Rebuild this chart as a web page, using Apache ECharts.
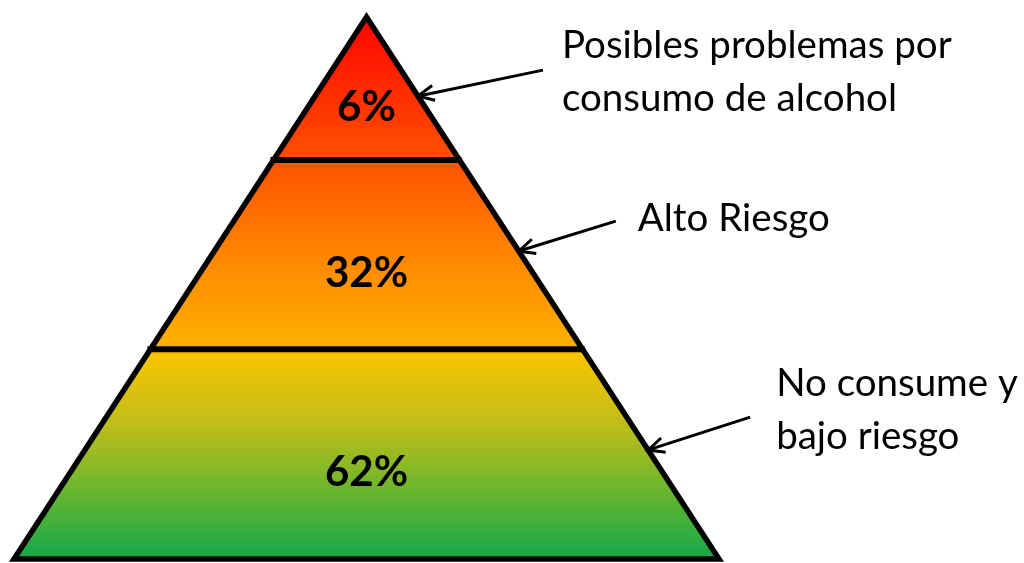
<!DOCTYPE html>
<html><head><meta charset="utf-8">
<script src="https://cdn.jsdelivr.net/npm/echarts@6/dist/echarts.min.js"></script>
<style>html,body{margin:0;padding:0;background:#fff}#c{width:1024px;height:563px}</style>
</head><body><div id="c"></div>
<script>
// ---- data ----
const categories = ['Posibles problemas por\nconsumo de alcohol', 'Alto Riesgo', 'No consume y\nbajo riesgo'];
const values = [6, 32, 62];

// ---- layout (fractions of pyramid height: base = 0, apex = 1) ----
const bands = [[0.736, 1], [0.387, 0.736], [0, 0.387]];
const valueTextH = [0.833, 0.526, 0.159];
const arrowTipH = [0.854, 0.568, 0.201];
const arrowVec = [[125, -26], [97, -30], [102, -33]];
const labelOffset = [[19, 1.5], [22, -3], [26, -7]];

const gradStops = [
  {offset: 0, color: '#FF0000'},
  {offset: 0.27, color: '#FF5200'},
  {offset: 0.43, color: '#FF8200'},
  {offset: 0.605, color: '#FFB000'},
  {offset: 0.625, color: '#F8C400'},
  {offset: 0.745, color: '#C2BE18'},
  {offset: 0.87, color: '#6AB62E'},
  {offset: 1, color: '#0EA84B'}
];

const chart = echarts.init(document.getElementById('c'), null, {renderer: 'canvas'});

function renderItem(params, api) {
  const i = api.value(0);
  const h0 = bands[i][0], h1 = bands[i][1];
  const P = (x, h) => api.coord([x, h]);
  const apex = P(0.5, 1), bl = P(0, 0), br = P(1, 0);
  const fill = new echarts.graphic.LinearGradient(0, apex[1] - 5, 0, bl[1] + 3, gradStops, true);
  const children = [];
  children.push({
    type: 'polygon', z2: 0,
    shape: {points: [P(0.5 * h0, h0), P(1 - 0.5 * h0, h0), P(1 - 0.5 * h1, h1), P(0.5 * h1, h1)]},
    style: {fill: fill, stroke: null}
  });
  if (i === 0) {
    children.push({
      type: 'polygon', z2: 10,
      shape: {points: [apex, br, bl]},
      style: {fill: null, stroke: '#000', lineWidth: 5.5, lineJoin: 'miter', miterLimit: 10}
    });
  }
  if (h0 > 0) {
    const a = P(0.5 * h0, h0), b = P(1 - 0.5 * h0, h0);
    children.push({
      type: 'line', z2: 10,
      shape: {x1: a[0] - 3, y1: a[1], x2: b[0] + 2, y2: b[1]},
      style: {stroke: '#000', lineWidth: 6}
    });
  }
  const vt = P(0.5, valueTextH[i]);
  children.push({
    type: 'text', z2: 20,
    style: {text: api.value(1) + '%', x: vt[0], y: vt[1], align: 'center', verticalAlign: 'middle',
      font: 'bold 42px Lato', fill: '#000'}
  });
  const tip = P(1 - 0.5 * arrowTipH[i], arrowTipH[i]);
  const tail = [tip[0] + arrowVec[i][0], tip[1] + arrowVec[i][1]];
  const dx = tip[0] - tail[0], dy = tip[1] - tail[1];
  const len = Math.sqrt(dx * dx + dy * dy);
  const ux = dx / len, uy = dy / len, nx = -uy, ny = ux;
  const L = 16, W = 7.5;
  children.push({
    type: 'line', z2: 15,
    shape: {x1: tail[0], y1: tail[1], x2: tip[0] - ux * 2, y2: tip[1] - uy * 2},
    style: {stroke: '#000', lineWidth: 3}
  });
  children.push({
    type: 'polyline', z2: 15,
    shape: {points: [[tip[0] - ux * L + nx * W, tip[1] - uy * L + ny * W], [tip[0], tip[1]], [tip[0] - ux * L - nx * W, tip[1] - uy * L - ny * W]]},
    style: {stroke: '#000', lineWidth: 3, fill: null, lineJoin: 'miter'}
  });
  children.push({
    type: 'text', z2: 20,
    style: {text: categories[i], x: tail[0] + labelOffset[i][0], y: tail[1] + labelOffset[i][1],
      align: 'left', verticalAlign: 'middle', font: '38.5px Lato', lineHeight: 53, fill: '#000'}
  });
  return {type: 'group', children: children};
}

chart.setOption({
  animation: false,
  grid: {left: 14, top: 17, width: 705, height: 542},
  xAxis: {type: 'value', min: 0, max: 1, show: false},
  yAxis: {type: 'value', min: 0, max: 1, show: false},
  series: [{
    type: 'custom',
    clip: false,
    renderItem: renderItem,
    data: values.map((v, i) => [i, v])
  }]
});
</script>
</body></html>
